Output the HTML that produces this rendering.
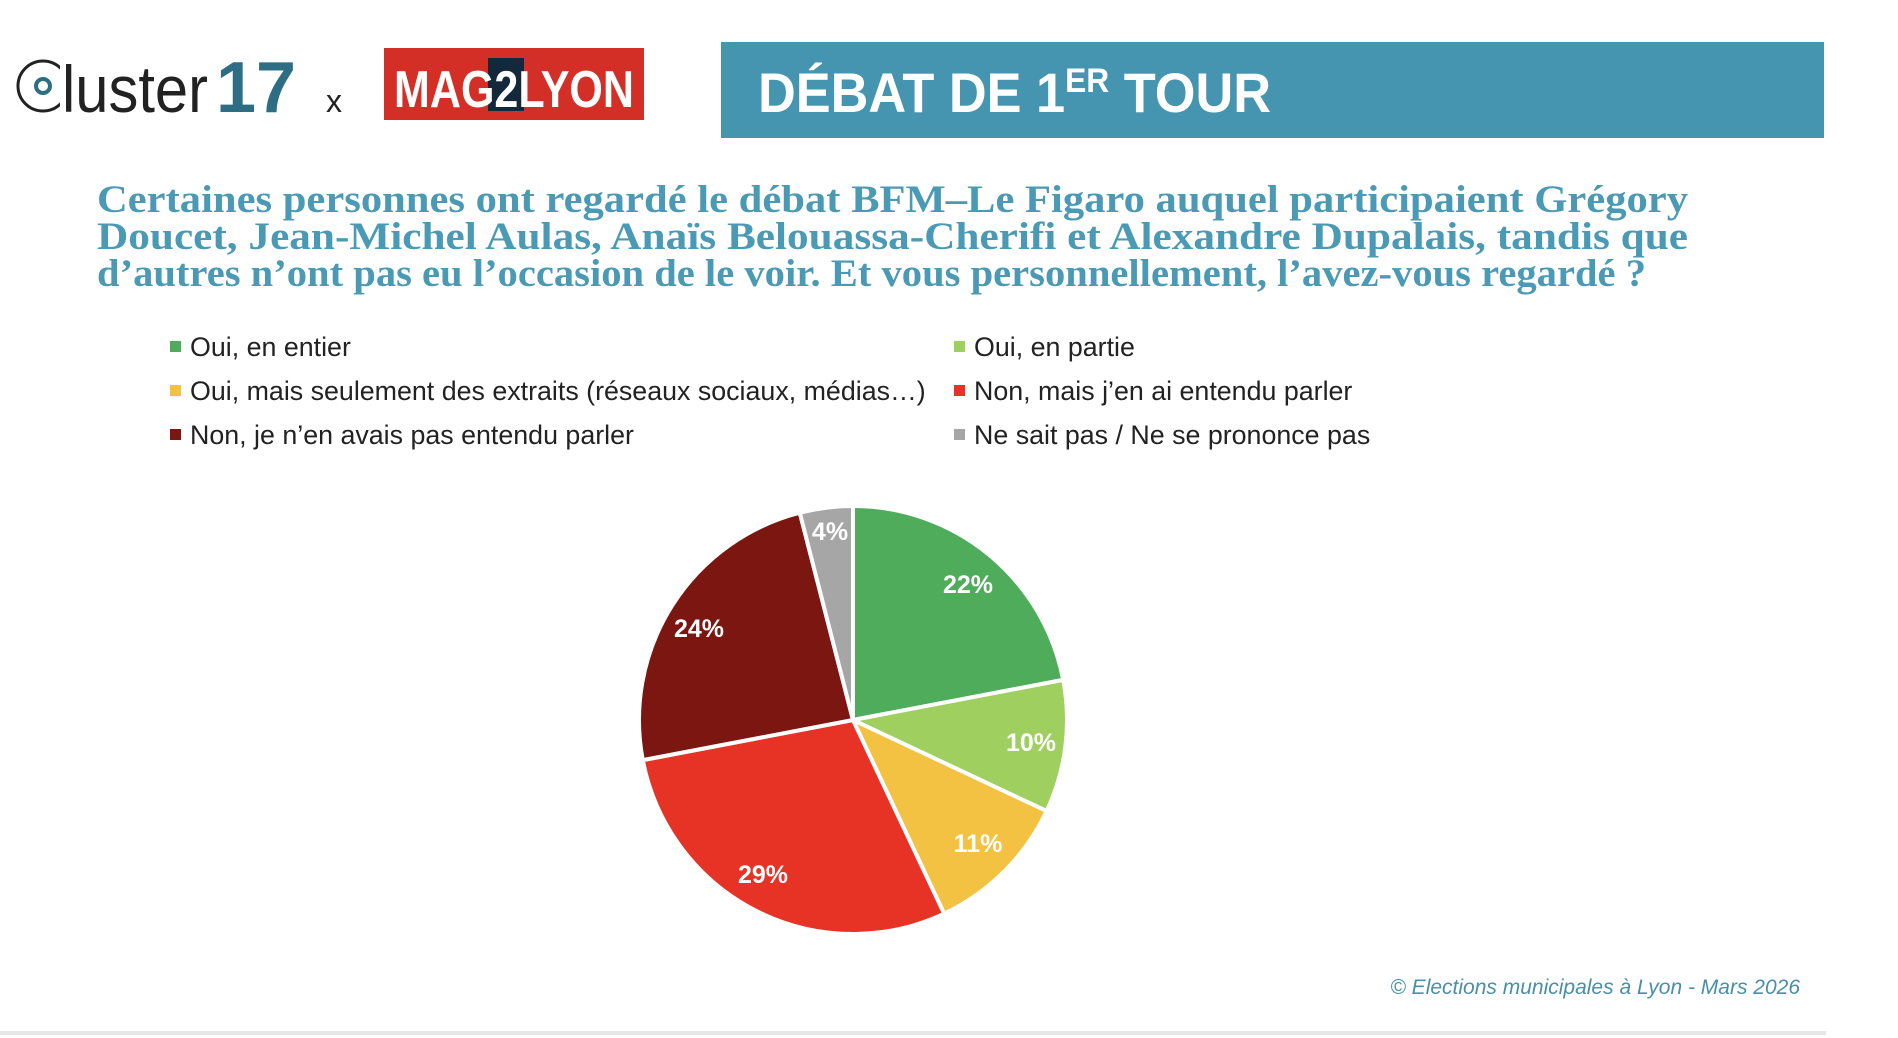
<!DOCTYPE html>
<html><head><meta charset="utf-8"><style>
html,body{margin:0;padding:0;background:#fff;}
body{width:1898px;height:1038px;overflow:hidden;position:relative;font-family:"Liberation Sans",sans-serif;}
.lg{position:absolute;font-size:26.8px;color:#222;line-height:30px;white-space:nowrap}
.lg i{display:inline-block;width:11px;height:11px;margin-right:9px;vertical-align:4px}
</style></head><body>
<svg width="1898" height="1038" style="position:absolute;left:0;top:0">
  <circle cx="43" cy="86" r="25" fill="none" stroke="#222" stroke-width="3"/>
  <rect x="60" y="60" width="14" height="50" fill="#fff"/>
  <circle cx="43" cy="86" r="7" fill="none" stroke="#2e6e84" stroke-width="4"/>
  <text x="62" y="112" font-family="Liberation Sans" font-size="66" fill="#222" textLength="146" lengthAdjust="spacingAndGlyphs">luster</text>
  <text x="216" y="112" font-family="Liberation Sans" font-weight="bold" font-size="72" fill="#2e6e84" textLength="80" lengthAdjust="spacingAndGlyphs">17</text>
  <text x="326" y="112" font-family="Liberation Sans" font-size="32" fill="#222">x</text>
  <rect x="384" y="48" width="260" height="72" fill="#d32f27"/>
  <rect x="488" y="58" width="36" height="53" fill="#13283a"/>
  <text x="394" y="107" font-family="Liberation Sans" font-weight="bold" font-size="52" fill="#fff" textLength="240" lengthAdjust="spacingAndGlyphs">MAG2LYON</text>
  <rect x="721" y="42" width="1103" height="96" fill="#4595b0"/>
  <text x="758" y="112" font-family="Liberation Sans" font-weight="bold" font-size="56" fill="#fff" textLength="513" lengthAdjust="spacingAndGlyphs">DÉBAT DE 1<tspan font-size="34" dy="-20">ER</tspan><tspan dy="20"> TOUR</tspan></text>
  <g font-family="Liberation Serif" font-weight="bold" font-size="39" fill="#4a9ab5">
    <text x="97" y="212" textLength="1591" lengthAdjust="spacingAndGlyphs">Certaines personnes ont regardé le débat BFM–Le Figaro auquel participaient Grégory</text>
    <text x="97" y="249" textLength="1591" lengthAdjust="spacingAndGlyphs">Doucet, Jean-Michel Aulas, Anaïs Belouassa-Cherifi et Alexandre Dupalais, tandis que</text>
    <text x="97" y="286" textLength="1549" lengthAdjust="spacingAndGlyphs">d’autres n’ont pas eu l’occasion de le voir. Et vous personnellement, l’avez-vous regardé ?</text>
  </g>
  <g id="pie"></g>
  <g font-family="Liberation Sans" font-weight="bold" font-size="25" fill="#fff" text-anchor="middle">
    <text x="968" y="593">22%</text>
    <text x="1031" y="751">10%</text>
    <text x="978" y="852">11%</text>
    <text x="763" y="883">29%</text>
    <text x="699" y="637">24%</text>
    <text x="830" y="540">4%</text>
  </g>
  <text x="1800" y="994" text-anchor="end" font-family="Liberation Sans" font-style="italic" font-size="21" fill="#4a8fa8">© Elections municipales à Lyon - Mars 2026</text>
  <rect x="0" y="1031" width="1826" height="4" fill="#e8e8e8"/>
</svg>
<div class="lg" style="left:170px;top:332px"><i style="background:#4fac5b"></i>Oui, en entier</div>
<div class="lg" style="left:954px;top:332px"><i style="background:#9fcf5f"></i>Oui, en partie</div>
<div class="lg" style="left:170px;top:376px"><i style="background:#f4c242"></i>Oui, mais seulement des extraits (réseaux sociaux, médias…)</div>
<div class="lg" style="left:954px;top:376px"><i style="background:#e63326"></i>Non, mais j’en ai entendu parler</div>
<div class="lg" style="left:170px;top:420px"><i style="background:#7b1610"></i>Non, je n’en avais pas entendu parler</div>
<div class="lg" style="left:954px;top:420px"><i style="background:#a6a6a6"></i>Ne sait pas / Ne se prononce pas</div>
<script>
(function(){
var cx=853,cy=720,r=214,vals=[22,10,11,29,24,4],cols=["#4fac5b","#9fcf5f","#f4c242","#e63326","#7b1610","#a6a6a6"];
var g=document.getElementById("pie"),a=0,s="";
for(var i=0;i<vals.length;i++){
 var a0=a/100*2*Math.PI,a1=(a+vals[i])/100*2*Math.PI;a+=vals[i];
 var x0=cx+r*Math.sin(a0),y0=cy-r*Math.cos(a0),x1=cx+r*Math.sin(a1),y1=cy-r*Math.cos(a1);
 s+='<path d="M'+cx+','+cy+' L'+x0+','+y0+' A'+r+','+r+' 0 '+((a1-a0)>Math.PI?1:0)+' 1 '+x1+','+y1+' Z" fill="'+cols[i]+'" stroke="#fff" stroke-width="4" stroke-linejoin="round"/>';
}
g.innerHTML=s;
})();
</script>
</body></html>
